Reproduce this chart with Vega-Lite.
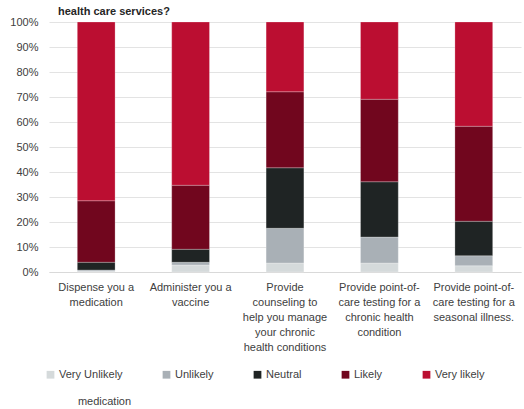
{
  "$schema": "https://vega.github.io/schema/vega-lite/v6.json",
  "autosize": {"type": "none"},
  "width": 472,
  "height": 250,
  "padding": {"left": 49, "top": 22, "right": 3, "bottom": 137},
  "background": "white",
  "title": {"text": "health care services?", "anchor": "start", "frame": "group", "dx": 9, "dy": 8, "offset": 7, "fontSize": 11, "fontWeight": "bold", "font": "Liberation Sans", "color": "#262626"},
  "config": {
    "font": "Liberation Sans",
    "view": {"stroke": null}
  },
  "data": {
    "values": [
      {"service": "Dispense you a|medication", "response": "Very Unlikely", "o": 1, "pct": 0.3},
      {"service": "Dispense you a|medication", "response": "Unlikely", "o": 2, "pct": 0.5},
      {"service": "Dispense you a|medication", "response": "Neutral", "o": 3, "pct": 3.1},
      {"service": "Dispense you a|medication", "response": "Likely", "o": 4, "pct": 24.6},
      {"service": "Dispense you a|medication", "response": "Very likely", "o": 5, "pct": 71.5},
      {"service": "Administer you a|vaccine", "response": "Very Unlikely", "o": 1, "pct": 2.8},
      {"service": "Administer you a|vaccine", "response": "Unlikely", "o": 2, "pct": 1.1},
      {"service": "Administer you a|vaccine", "response": "Neutral", "o": 3, "pct": 5.2},
      {"service": "Administer you a|vaccine", "response": "Likely", "o": 4, "pct": 25.6},
      {"service": "Administer you a|vaccine", "response": "Very likely", "o": 5, "pct": 65.3},
      {"service": "Provide|counseling to|help you manage|your chronic|health conditions", "response": "Very Unlikely", "o": 1, "pct": 3.6},
      {"service": "Provide|counseling to|help you manage|your chronic|health conditions", "response": "Unlikely", "o": 2, "pct": 13.9},
      {"service": "Provide|counseling to|help you manage|your chronic|health conditions", "response": "Neutral", "o": 3, "pct": 24.2},
      {"service": "Provide|counseling to|help you manage|your chronic|health conditions", "response": "Likely", "o": 4, "pct": 30.4},
      {"service": "Provide|counseling to|help you manage|your chronic|health conditions", "response": "Very likely", "o": 5, "pct": 27.9},
      {"service": "Provide point-of-|care testing for a|chronic health|condition", "response": "Very Unlikely", "o": 1, "pct": 3.6},
      {"service": "Provide point-of-|care testing for a|chronic health|condition", "response": "Unlikely", "o": 2, "pct": 10.4},
      {"service": "Provide point-of-|care testing for a|chronic health|condition", "response": "Neutral", "o": 3, "pct": 22.1},
      {"service": "Provide point-of-|care testing for a|chronic health|condition", "response": "Likely", "o": 4, "pct": 33.0},
      {"service": "Provide point-of-|care testing for a|chronic health|condition", "response": "Very likely", "o": 5, "pct": 30.9},
      {"service": "Provide point-of-|care testing for a|seasonal illness.", "response": "Very Unlikely", "o": 1, "pct": 2.5},
      {"service": "Provide point-of-|care testing for a|seasonal illness.", "response": "Unlikely", "o": 2, "pct": 4.0},
      {"service": "Provide point-of-|care testing for a|seasonal illness.", "response": "Neutral", "o": 3, "pct": 13.8},
      {"service": "Provide point-of-|care testing for a|seasonal illness.", "response": "Likely", "o": 4, "pct": 38.0},
      {"service": "Provide point-of-|care testing for a|seasonal illness.", "response": "Very likely", "o": 5, "pct": 41.7}
    ]
  },
  "mark": {"type": "bar", "stroke": "white", "strokeWidth": 0.4, "strokeOpacity": 0.6},
  "encoding": {
    "x": {
      "field": "service", "type": "nominal", "sort": null,
      "scale": {"paddingInner": 0.6, "paddingOuter": 0.3},
      "axis": {
        "labelExpr": "split(datum.label, '|')",
        "labelAngle": 0,
        "labelFontSize": 11,
        "labelLineHeight": 15,
        "labelColor": "#404040",
        "labelBaseline": "top",
        "labelPadding": 9,
        "labelLimit": 200,
        "ticks": false,
        "domainColor": "#d9d9d9",
        "title": "medication",
        "titleFontWeight": "normal",
        "titleFontSize": 11,
        "titleColor": "#404040",
        "titleX": 55,
        "titleY": 129,
        "titleAlign": "center",
        "titleBaseline": "middle"
      }
    },
    "y": {
      "field": "pct", "type": "quantitative", "stack": "normalize",
      "scale": {"domain": [0, 1]},
      "axis": {
        "format": ".0%",
        "values": [0, 0.1, 0.2, 0.3, 0.4, 0.5, 0.6, 0.7, 0.8, 0.9, 1],
        "title": null,
        "domain": false,
        "ticks": false,
        "labelPadding": 11,
        "labelFontSize": 11,
        "labelColor": "#404040",
        "gridColor": "#e3e3e3"
      }
    },
    "color": {
      "field": "response", "type": "nominal",
      "scale": {
        "domain": ["Very Unlikely", "Unlikely", "Neutral", "Likely", "Very likely"],
        "range": ["#d5dadb", "#a9b0b6", "#1f2424", "#71061e", "#bb0e31"]
      },
      "legend": {
        "title": null,
        "orient": "none",
        "direction": "horizontal",
        "legendX": -4,
        "legendY": 347,
        "symbolType": "square",
        "symbolSize": 60,
        "symbolStrokeWidth": 0,
        "labelFontSize": 11,
        "labelColor": "#404040",
        "columnPadding": 38,
        "labelOffset": 3
      }
    },
    "order": {"field": "o", "type": "quantitative"}
  }
}
